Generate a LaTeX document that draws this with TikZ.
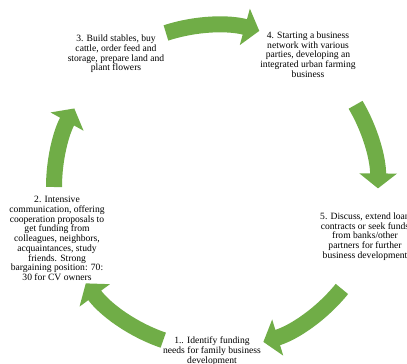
\documentclass[tikz,border=0pt]{standalone}
\usepackage{fontspec}
\setmainfont{Liberation Serif}
\usepackage{tikz}
\usetikzlibrary{calc,arrows.meta}
\definecolor{arrowgreen}{RGB}{112,173,71}

\begin{document}
\begin{tikzpicture}[x=1pt,y=-1pt,
  stagetext/.style={align=center,inner sep=0pt,font=\fontsize{9.6}{9.7}\selectfont},
  cyclearrow/.style={draw=arrowgreen,line width=16pt,-{Triangle[width=37pt,length=15pt]}}]
\useasboundingbox (0,0) rectangle (407,364);
% Centro del ciclo
\coordinate (ctr) at (216,187);
% Paso 1
\node[stagetext] (s1) at (212,351) {1.. Identify funding\\needs for family business\\development};
% Paso 2
\node[stagetext] (s2) at (57,238.5) {2. Intensive\\communication, offering\\cooperation proposals to\\get funding from\\colleagues, neighbors,\\acquaintances, study\\friends. Strong\\bargaining position: 70:\\30 for CV owners};
% Paso 3
\node[stagetext] (s3) at (116,54) {3. Build stables, buy\\cattle, order feed and\\storage, prepare land and\\plant flowers};
% Paso 4
\node[stagetext] (s4) at (308,54.5) {4. Starting a business\\network with various\\parties, developing an\\integrated urban farming\\business};
% Paso 5
\node[stagetext] (s5) at (365,236.5) {5. Discuss, extend loan\\contracts or seek funds\\from banks/other\\partners for further\\business development};
% Flechas del ciclo
\coordinate (a12) at ($(ctr)+(109:162)$);
\coordinate (a23) at ($(ctr)+(180:162)$);
\coordinate (a34) at ($(ctr)+(252:162)$);
\coordinate (a45) at ($(ctr)+(329.5:162)$);
\coordinate (a51) at ($(ctr)+(39:162)$);
\draw[cyclearrow] (a12) arc[start angle=109, end angle=143.5, radius=162];
\draw[cyclearrow] (a23) arc[start angle=180, end angle=209, radius=162];
\draw[cyclearrow] (a34) arc[start angle=252, end angle=285.5, radius=162];
\draw[cyclearrow] (a45) arc[start angle=329.5, end angle=360.5, radius=162];
\draw[cyclearrow] (a51) arc[start angle=39, end angle=73, radius=162];
\end{tikzpicture}
\end{document}
